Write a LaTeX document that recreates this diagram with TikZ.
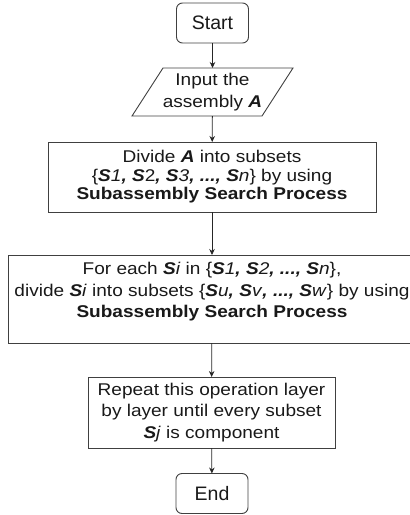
\documentclass[tikz,border=0pt]{standalone}
\usepackage{fontspec}
\setmainfont{Liberation Sans}
\newfontfamily\bodyfont{Liberation Sans}[FakeStretch=1.12]
\usetikzlibrary{arrows.meta}

% bold italic set symbol with an italic index
\newcommand\symS[1]{\textbf{\textit{S}}\textit{#1}}
\newcommand\bic[1]{\textbf{\textit{#1}}}

\begin{document}
\begin{tikzpicture}[x=1pt, y=-1pt,
  every node/.style={inner sep=0pt, outer sep=0pt, align=center, text=black!90},
  terminal/.style={draw=black!75, line width=0.9pt, rounded corners=6pt,
    minimum width=72pt, minimum height=40pt, font=\fontsize{19.5}{22}\selectfont},
  procbox/.style={draw=black!75, line width=0.9pt,
    font=\bodyfont\fontsize{17}{21.5}\selectfont},
  iobox/.style={font=\bodyfont\fontsize{17}{21.5}\selectfont},
  outline/.style={draw=black!75, line width=0.9pt},
  flow/.style={draw=black!85, line width=0.8pt, -{Stealth[length=6pt,width=5.5pt]}}
]
\clip (0,0) rectangle (410,515);

\node[terminal] (start) at (212.5,23) {Start};

\node[iobox, minimum width=161pt, minimum height=48pt] (input) at (212.5,92)
  {Input the\\assembly \bic{A}};
\draw[outline] ([xshift=31pt]input.north west) -- (input.north east)
  -- ([xshift=-31pt]input.south east) -- (input.south west) -- cycle;

\node[procbox, minimum width=328pt, minimum height=70pt,
  font=\bodyfont\fontsize{17}{18.5}\selectfont] (divide) at (212,177)
  {Divide \bic{A} into subsets\\
   \{\symS{1}\bic{,} \bic{S}2\bic{,} \symS{3}\bic{, ...,} \symS{n}\} by using\\
   \textbf{Subassembly Search Process}};

% the frame of this step, with its text set a little above the middle
\node[procbox, minimum width=408pt, minimum height=88pt] (each) at (212,299) {};
\node[iobox] (eachtext) at ([yshift=7pt]each.center)
  {For each \symS{i} in \{\symS{1}\bic{,} \symS{2}\bic{, ...,} \symS{n}\},\\
   divide \symS{i} into subsets \{\symS{u}\bic{,} \symS{v}\bic{, ...,} \symS{w}\} by using\\
   \textbf{Subassembly Search Process}};

\node[procbox, minimum width=247pt, minimum height=71pt] (repeat) at (211.5,412.5)
  {Repeat this operation layer\\
   by layer until every subset\\
   \symS{j} is component};

\node[terminal] (end) at (212,493.5) {End};

\draw[flow] (start) -- (input);
\draw[flow] (input) -- (divide);
\draw[flow] (divide) -- (each);
\draw[flow] (each) -- (repeat);
\draw[flow] (repeat) -- (end);
\end{tikzpicture}
\end{document}
